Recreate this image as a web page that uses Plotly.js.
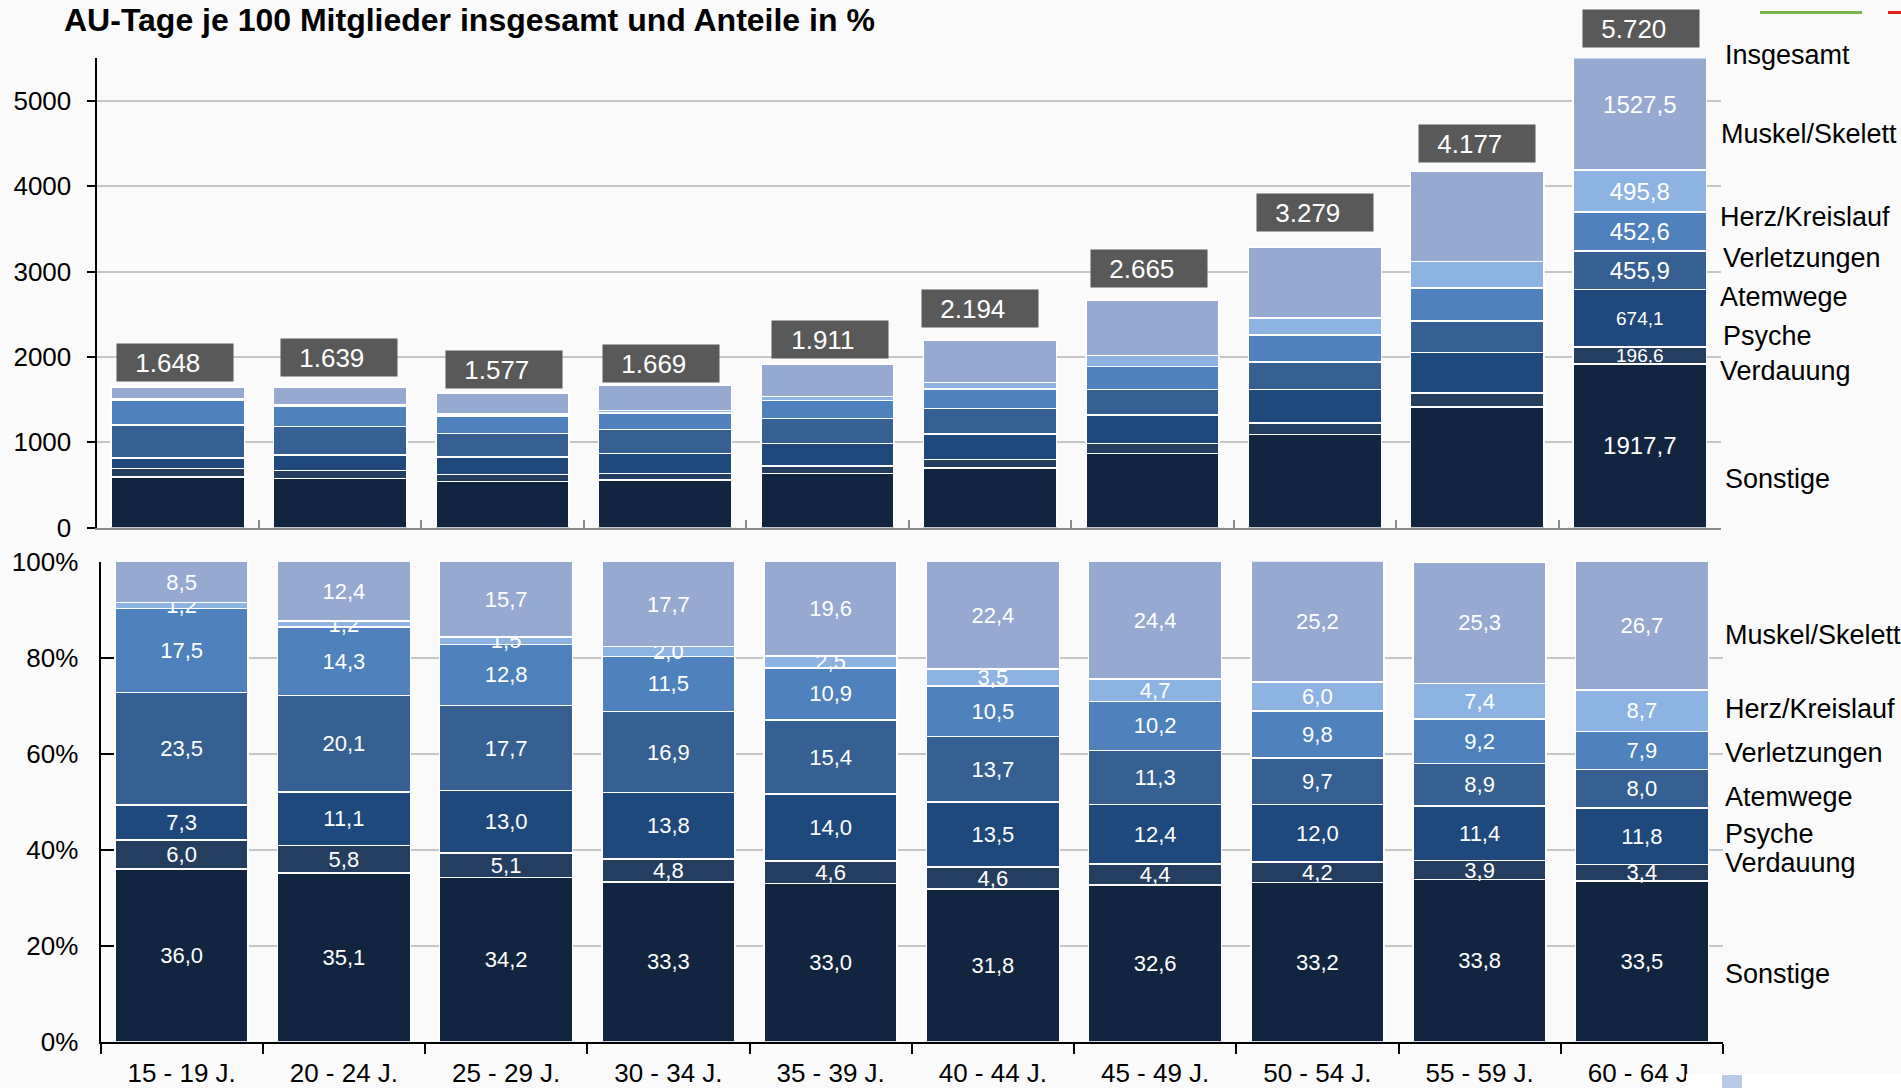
<!DOCTYPE html>
<html>
<head>
<meta charset="utf-8">
<script src="https://cdn.plot.ly/plotly-3.0.1.min.js"></script>
<style>
html, body { margin: 0; padding: 0; background: #fafafa; }
#chart { width: 1901px; height: 1088px; }
</style>
</head>
<body>
<div id="chart"></div>
<script>
// ---------- DATA ----------
const categories = ['15 - 19 J.', '20 - 24 J.', '25 - 29 J.', '30 - 34 J.', '35 - 39 J.',
                    '40 - 44 J.', '45 - 49 J.', '50 - 54 J.', '55 - 59 J.', '60 - 64 J.'];
const seriesNames = ['Sonstige', 'Verdauung', 'Psyche', 'Atemwege', 'Verletzungen', 'Herz/Kreislauf', 'Muskel/Skelett'];

// AU-Tage je 100 Mitglieder insgesamt
const totals = [1648, 1639, 1577, 1669, 1911, 2194, 2665, 3279, 4177, 5720];

// AU-Tage je 100 Mitglieder nach Diagnosegruppe (obere Grafik)
const sonstigeTage     = [593.3, 575.3, 539.3, 555.8, 630.6, 697.7, 868.8, 1088.6, 1411.8, 1917.7];
const verdauungTage    = [98.9, 95.1, 80.4, 80.1, 87.9, 100.9, 117.3, 137.7, 162.9, 196.6];
const psycheTage       = [120.3, 181.9, 205.0, 230.3, 267.5, 296.2, 330.5, 393.5, 476.2, 674.1];
const atemwegeTage     = [387.3, 329.4, 279.1, 282.1, 294.3, 300.6, 301.1, 318.1, 371.8, 455.9];
const verletzungenTage = [288.4, 234.4, 201.9, 191.9, 208.3, 230.4, 271.8, 321.3, 384.3, 452.6];
const herzTage         = [19.8, 19.7, 23.7, 33.4, 47.8, 76.8, 125.3, 196.7, 309.1, 495.8];
const muskelTage       = [140.1, 203.2, 247.6, 295.4, 374.6, 491.5, 650.3, 826.3, 1056.8, 1527.5];

// Anteile in % (untere Grafik)
const sonstigePct     = [36.0, 35.1, 34.2, 33.3, 33.0, 31.8, 32.6, 33.2, 33.8, 33.5];
const verdauungPct    = [6.0, 5.8, 5.1, 4.8, 4.6, 4.6, 4.4, 4.2, 3.9, 3.4];
const psychePct       = [7.3, 11.1, 13.0, 13.8, 14.0, 13.5, 12.4, 12.0, 11.4, 11.8];
const atemwegePct     = [23.5, 20.1, 17.7, 16.9, 15.4, 13.7, 11.3, 9.7, 8.9, 8.0];
const verletzungenPct = [17.5, 14.3, 12.8, 11.5, 10.9, 10.5, 10.2, 9.8, 9.2, 7.9];
const herzPct         = [1.2, 1.2, 1.5, 2.0, 2.5, 3.5, 4.7, 6.0, 7.4, 8.7];
const muskelPct       = [8.5, 12.4, 15.7, 17.7, 19.6, 22.4, 24.4, 25.2, 25.3, 26.7];

// ---------- STYLE ----------
const seriesColors = ['#112540', '#243e60', '#1f487c', '#366091', '#4f81bd', '#8db3e2', '#95a9d1'];
const tageSeries = [sonstigeTage, verdauungTage, psycheTage, atemwegeTage, verletzungenTage, herzTage, muskelTage];
const pctSeries  = [sonstigePct, verdauungPct, psychePct, atemwegePct, verletzungenPct, herzPct, muskelPct];
const labelFontSizeTop = [24, 19, 19, 24, 24, 24, 24];
// small placement offsets of the total boxes (pixels)
const boxYShift = [5, 11, 4, 2, 6, 12, 12, 16, 8, 10];
const boxXShift = [-3, -1, 1, -4, 2, -10, -3, 0, 0, 1];

const FONT = 'Liberation Sans, Arial, Helvetica, sans-serif';
const W = 1901, H = 1088;
const px = v => v / W;
const py = v => 1 - v / H;
const deComma = v => v.toFixed(1).replace('.', ',');
const deThousand = v => String(v).replace(/\B(?=(\d{3})+(?!\d))/g, '.');
const topMax = 5500;

const traces = [];
seriesNames.forEach((name, k) => {
  const n = categories.length;
  traces.push({
    type: 'bar', name: name, x: categories, y: tageSeries[k],
    xaxis: 'x', yaxis: 'y',
    marker: { color: seriesColors[k], line: { color: '#ffffff', width: 1.5 } },
    text: tageSeries[k].map((v, i) => i === n - 1 ? deComma(v) : ''),
    textposition: 'inside', insidetextanchor: 'middle', textangle: 0, constraintext: 'none',
    textfont: { family: FONT, color: '#ffffff', size: labelFontSizeTop[k] },
    hoverinfo: 'skip', showlegend: false
  });
  traces.push({
    type: 'bar', name: name, x: categories, y: pctSeries[k],
    xaxis: 'x2', yaxis: 'y2',
    marker: { color: seriesColors[k], line: { color: '#ffffff', width: 1.5 } },
    text: pctSeries[k].map(deComma),
    textposition: 'inside', insidetextanchor: 'middle', textangle: 0, constraintext: 'none',
    textfont: { family: FONT, color: '#ffffff', size: 22 },
    hoverinfo: 'skip', showlegend: false
  });
});

const annotations = [];
annotations.push({
  xref: 'paper', yref: 'paper', x: px(62), y: py(20), xanchor: 'left', yanchor: 'middle',
  text: 'AU-Tage je 100 Mitglieder insgesamt und Anteile in %', showarrow: false,
  font: { family: FONT, size: 32, color: '#000000', weight: 'bold' }
});
totals.forEach((t, i) => {
  annotations.push({
    xref: 'x', yref: 'y', x: categories[i], y: Math.min(t, topMax), xanchor: 'center', yanchor: 'bottom',
    yshift: boxYShift[i], xshift: boxXShift[i], text: deThousand(t) + '\u00a0\u00a0', showarrow: false,
    bgcolor: '#595959', width: 116, height: 37, borderpad: 0,
    font: { family: FONT, size: 26, color: '#ffffff' }
  });
});
const topLegend = [['Insgesamt', 55, 1723], ['Muskel/Skelett', 133.6, 1719], ['Herz/Kreislauf', 217, 1717.5],
                   ['Verletzungen', 258, 1721], ['Atemwege', 297, 1717.5], ['Psyche', 336, 1721],
                   ['Verdauung', 371, 1717.5], ['Sonstige', 478.6, 1723]];
const bottomLegend = [['Muskel/Skelett', 635, 1723], ['Herz/Kreislauf', 709, 1723], ['Verletzungen', 753, 1723],
                      ['Atemwege', 797, 1723], ['Psyche', 834, 1723], ['Verdauung', 863, 1723], ['Sonstige', 974, 1723]];
topLegend.concat(bottomLegend).forEach(([t, y, x]) => {
  annotations.push({
    xref: 'paper', yref: 'paper', x: px(x), y: py(y), xanchor: 'left', yanchor: 'middle',
    text: t, showarrow: false, font: { family: FONT, size: 27, color: '#000000' }
  });
});

const shapes = [
  { type: 'line', xref: 'paper', yref: 'paper', x0: px(1760), x1: px(1862), y0: py(12.5), y1: py(12.5),
    line: { color: '#7ab648', width: 3 } },
  { type: 'line', xref: 'paper', yref: 'paper', x0: px(1888), x1: px(1901), y0: py(12.5), y1: py(12.5),
    line: { color: '#e2231a', width: 3 } },
  { type: 'rect', xref: 'paper', yref: 'paper', layer: 'above', x0: px(1686), x1: px(1901), y0: py(1088), y1: py(1074),
    fillcolor: '#ffffff', line: { width: 0 } },
  { type: 'rect', xref: 'paper', yref: 'paper', layer: 'above', x0: px(1722), x1: px(1742), y0: py(1088), y1: py(1075),
    fillcolor: '#b9c9e8', line: { width: 0 } }
];

const layout = {
  width: W, height: H,
  margin: { l: 0, r: 0, t: 0, b: 0 },
  paper_bgcolor: '#fafafa', plot_bgcolor: 'rgba(0,0,0,0)',
  barmode: 'stack', bargap: 0.18,
  font: { family: FONT, color: '#000000' },
  showlegend: false,
  xaxis: {
    domain: [px(96.5), px(1721)], anchor: 'y', type: 'category', range: [-0.5, 9.5],
    showticklabels: false, ticks: 'inside', tickson: 'boundaries', ticklen: 8, tickwidth: 2, tickcolor: '#8c8c8c',
    showline: true, linecolor: '#8c8c8c', linewidth: 2, showgrid: false, zeroline: false, fixedrange: true
  },
  yaxis: {
    domain: [py(527.5), py(58.4)], anchor: 'x', range: [0, topMax],
    tickvals: [0, 1000, 2000, 3000, 4000, 5000], ticktext: ['0', '1000', '2000', '3000', '4000', '5000'],
    ticks: 'outside', ticklen: 8, tickwidth: 2, tickcolor: '#000000',
    showline: true, linecolor: '#000000', linewidth: 2,
    showgrid: true, gridcolor: '#c6c6c6', gridwidth: 2, zeroline: false,
    tickfont: { family: FONT, size: 26, color: '#000000' }, ticklabelstandoff: 10, fixedrange: true
  },
  xaxis2: {
    domain: [px(100.5), px(1723)], anchor: 'y2', type: 'category', range: [-0.5, 9.5],
    ticks: 'outside', tickson: 'boundaries', ticklen: 10, tickwidth: 2, tickcolor: '#000000',
    showline: true, linecolor: '#000000', linewidth: 2.5, showgrid: false, zeroline: false,
    tickfont: { family: FONT, size: 26, color: '#000000' }, ticklabelstandoff: 7, fixedrange: true
  },
  yaxis2: {
    domain: [py(1041.7), py(561.7)], anchor: 'x2', range: [0, 100], dtick: 20, tick0: 0, ticksuffix: '%',
    ticks: 'inside', ticklen: 13, tickwidth: 2, tickcolor: '#000000',
    showline: true, linecolor: '#000000', linewidth: 2,
    showgrid: true, gridcolor: '#c6c6c6', gridwidth: 2, zeroline: false,
    tickfont: { family: FONT, size: 26, color: '#000000' }, ticklabelstandoff: 15, fixedrange: true
  },
  annotations: annotations,
  shapes: shapes
};

Plotly.newPlot('chart', traces, layout, { displayModeBar: false, staticPlot: true });
</script>
</body>
</html>
